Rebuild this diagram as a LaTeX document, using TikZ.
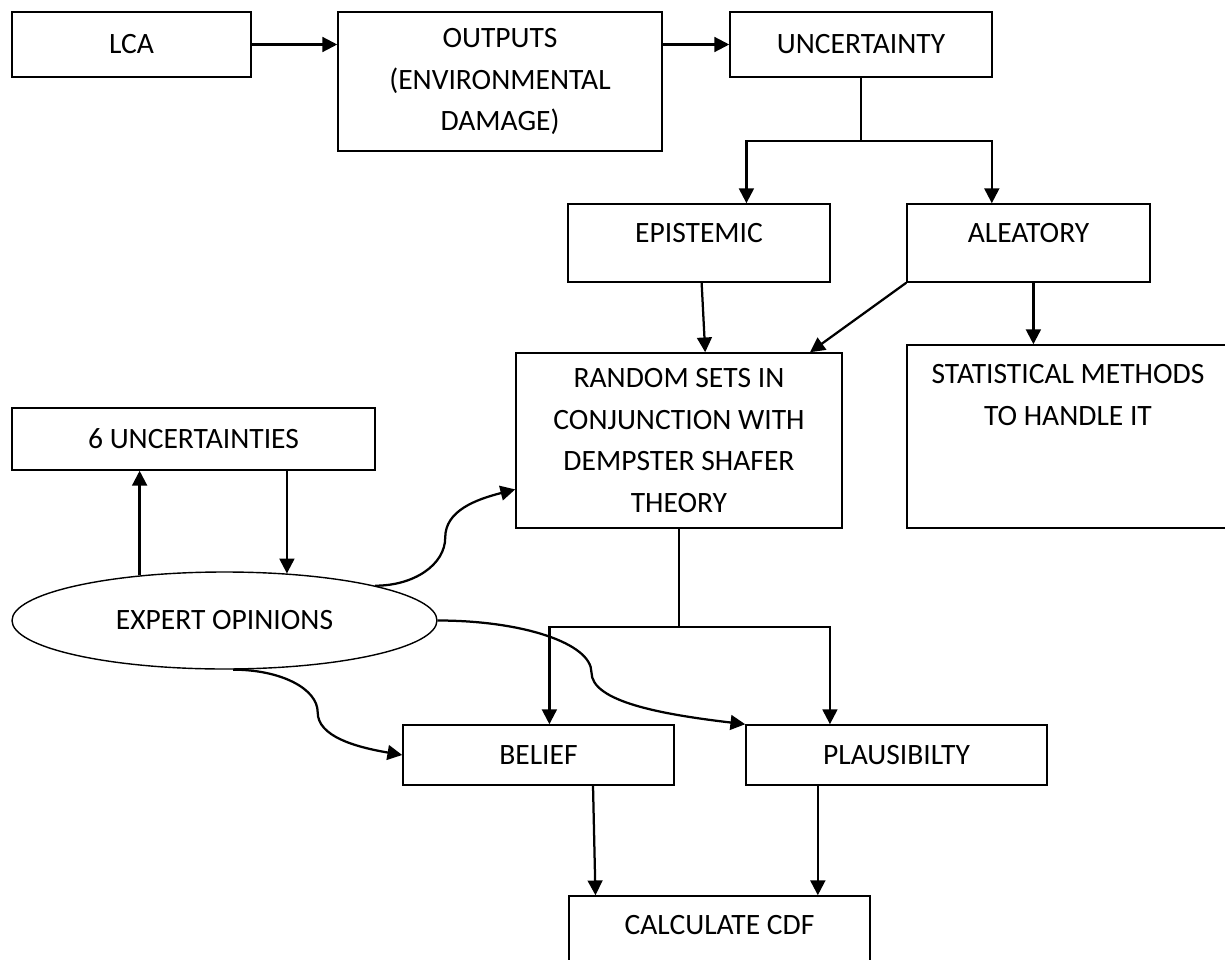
\documentclass[tikz,border=0pt]{standalone}
\usepackage{fontspec}
\setmainfont{Carlito}
\usetikzlibrary{calc,arrows.meta,positioning,shapes}
\newcommand{\pxl}{0.025cm}

\tikzset{
  blok/.style={draw, line width=1.1pt, align=center, inner sep=0pt},
  pijl/.style={-{Triangle[length=10.5pt,width=10.5pt]}, line width=1.6pt},
  lijn/.style={line width=1.6pt},
}

\begin{document}
\begin{tikzpicture}[x=0.025cm,y=-0.025cm,font=\fontsize{21}{29.5}\selectfont]
        \useasboundingbox (0,0) rectangle (1225,960);
        \node[blok,minimum width=239*\pxl,minimum height=65*\pxl] (lca) at (131.5,44.5) {LCA};
        \node[blok,minimum width=324*\pxl,minimum height=139*\pxl] (outputs) at (500,81.5)
              {OUTPUTS\\(ENVIRONMENTAL\\DAMAGE)};
        \node[blok,minimum width=262*\pxl,minimum height=65*\pxl] (uncert) at (861,44.5) {UNCERTAINTY};
        \node[blok,minimum width=262*\pxl,minimum height=78*\pxl,text depth=14.2pt] (epist) at (699,243) {EPISTEMIC};
        \node[blok,minimum width=243*\pxl,minimum height=78*\pxl,text depth=14.2pt] (alea) at (1028.5,243) {ALEATORY};
        \node[blok,minimum width=326*\pxl,minimum height=175*\pxl] (random) at (679,440.5)
              {RANDOM SETS IN\\CONJUNCTION WITH\\DEMPSTER SHAFER\\THEORY};
        \node[blok,minimum width=322*\pxl,minimum height=183*\pxl,
              label={[anchor=north,align=center,inner sep=0pt,yshift=-14.2pt]north:{STATISTICAL METHODS\\TO HANDLE IT}}]
              (stat) at (1068,436.5) {};
        \node[blok,minimum width=363*\pxl,minimum height=62*\pxl] (sixunc) at (193.5,439) {6 UNCERTAINTIES};
        \node[draw,ellipse,line width=1pt,inner sep=0pt,minimum width=425*\pxl,minimum height=97*\pxl]
              (expert) at (224.5,620.5) {EXPERT OPINIONS};
        \node[blok,minimum width=271*\pxl,minimum height=60*\pxl] (belief) at (538.5,755) {BELIEF};
        \node[blok,minimum width=301*\pxl,minimum height=60*\pxl] (plaus) at (896.5,755) {PLAUSIBILTY};
        \node[blok,minimum width=301*\pxl,minimum height=100*\pxl,text depth=29.9pt] (cdf) at (719.5,946) {CALCULATE CDF};

        \draw[pijl] (lca.east) -- (lca.east -| outputs.west);
        \draw[pijl] (outputs.east |- uncert) -- (uncert.west);
        \draw[lijn] (uncert.south) -- ++(0,63) coordinate (tak1);
        \draw[pijl] (tak1) -| ($(epist.north west)!0.68!(epist.north east)$);
        \draw[pijl] (tak1) -| ($(alea.north west)!0.35!(alea.north east)$);
        \draw[pijl] ($(epist.south west)!0.51!(epist.south east)$) -- ($(random.north west)!0.58!(random.north east)$);
        \draw[pijl] (alea.south west) -- ($(random.north west)!0.9!(random.north east)$);
        \draw[pijl] ($(alea.south west)!0.52!(alea.south east)$) coordinate (a1) -- (a1 |- stat.north);
        \draw[pijl] (expert.152) -- (expert.152 |- sixunc.south);
        \draw[pijl] (expert.37 |- sixunc.south) -- (expert.37);
        \draw[pijl] (expert.13) .. controls +(39,0) and +(0,27) .. ($(expert.13)!0.5!($(random.north west)!0.777!(random.south west)$)$)
              .. controls +(0,-27) and +(-39,10) .. ($(random.north west)!0.777!(random.south west)$);
        \draw[lijn] (random.south) -- ++(0,98) coordinate (tak2);
        \draw[pijl] (tak2) -| ($(belief.north west)!0.54!(belief.north east)$);
        \draw[pijl] (tak2) -| ($(plaus.north west)!0.28!(plaus.north east)$);
        \draw[pijl] (expert.-80) .. controls +(47,0) and +(0,-24) .. ($(expert.-80)!0.5!(belief.west)$)
              .. controls +(0,24) and +(-47,-8) .. (belief.west);
        \draw[pijl] (expert.east) .. controls +(85,0) and +(0,-29) .. ($(expert.east)!0.5!(plaus.north west)$)
              .. controls +(0,29) and +(-85,-10) .. (plaus.north west);
        \draw[pijl] ($(belief.south west)!0.7!(belief.south east)$) -- ($(cdf.north west)!0.09!(cdf.north east)$);
        \draw[pijl] ($(plaus.south west)!0.24!(plaus.south east)$) coordinate (p1) -- (p1 |- cdf.north);
\end{tikzpicture}
\end{document}
